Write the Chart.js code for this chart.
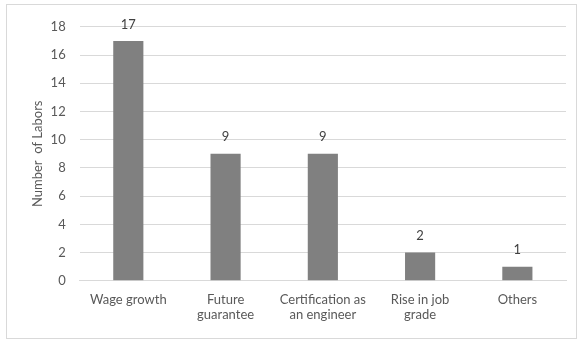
<!DOCTYPE html>
<html>
<head>
<meta charset="utf-8">
<script src="https://cdn.jsdelivr.net/npm/chart.js@4/dist/chart.umd.min.js"></script>
<style>
  html, body { margin: 0; padding: 0; background: #fff; }
  #frame {
    position: absolute; left: 6px; top: 4px;
    width: 569px; height: 333px;
    border: 1px solid #d9d9d9;
  }
</style>
</head>
<body>
<div id="frame"><canvas id="barChart"></canvas></div>
<script>
// Motivos de los trabajadores
const categories = ['Wage growth', ['Future', 'guarantee'], ['Certification as', 'an engineer'], ['Rise in job', 'grade'], 'Others'];
const labors = [17, 9, 9, 2, 1];
const yTicks = [0, 2, 4, 6, 8, 10, 12, 14, 16, 18];

const FONT = 'Lato, "Open Sans", sans-serif';
const TEXT = '#595959';

// etiquetas de valor encima de cada barra
const valueLabels = {
    id: 'valueLabels',
    afterDatasetsDraw(chart) {
        const ctx = chart.ctx;
        const meta = chart.getDatasetMeta(0);
        ctx.save();
        ctx.font = '13px ' + FONT;
        ctx.fillStyle = '#404040';
        ctx.textAlign = 'center';
        ctx.textBaseline = 'bottom';
        meta.data.forEach((bar, i) => {
            ctx.fillText(String(labors[i]), bar.x, bar.y - 10);
        });
        ctx.restore();
    }
};

const barCtx = document.getElementById('barChart').getContext('2d');
new Chart(barCtx, {
    type: 'bar',
    data: {
        labels: categories,
        datasets: [{
            label: 'Number of Labors',
            data: labors,
            backgroundColor: '#808080',
            barPercentage: 0.62,
            categoryPercentage: 0.5
        }]
    },
    options: {
        responsive: true,
        maintainAspectRatio: false,
        animation: false,
        layout: { padding: { left: 19, right: 10, top: 15, bottom: 12 } },
        plugins: {
            legend: { display: false },
            tooltip: { enabled: false }
        },
        scales: {
            x: {
                grid: { display: false },
                border: { color: '#d9d9d9' },
                ticks: { color: TEXT, font: { family: FONT, size: 13 }, maxRotation: 0, padding: 3 },
            },
            y: {
                min: 0,
                max: 18,
                afterBuildTicks(axis) { axis.ticks = yTicks.map(v => ({ value: v })); },
                grid: { color: '#d9d9d9', drawTicks: false },
                border: { display: false },
                ticks: { color: TEXT, font: { family: FONT, size: 13 }, padding: 14 },
                title: {
                    display: true,
                    text: 'Number  of Labors',
                    color: TEXT,
                    font: { family: FONT, size: 13 },
                    padding: { top: 4, bottom: -9 }
                }
            }
        }
    },
    plugins: [valueLabels]
});
</script>
</body>
</html>
